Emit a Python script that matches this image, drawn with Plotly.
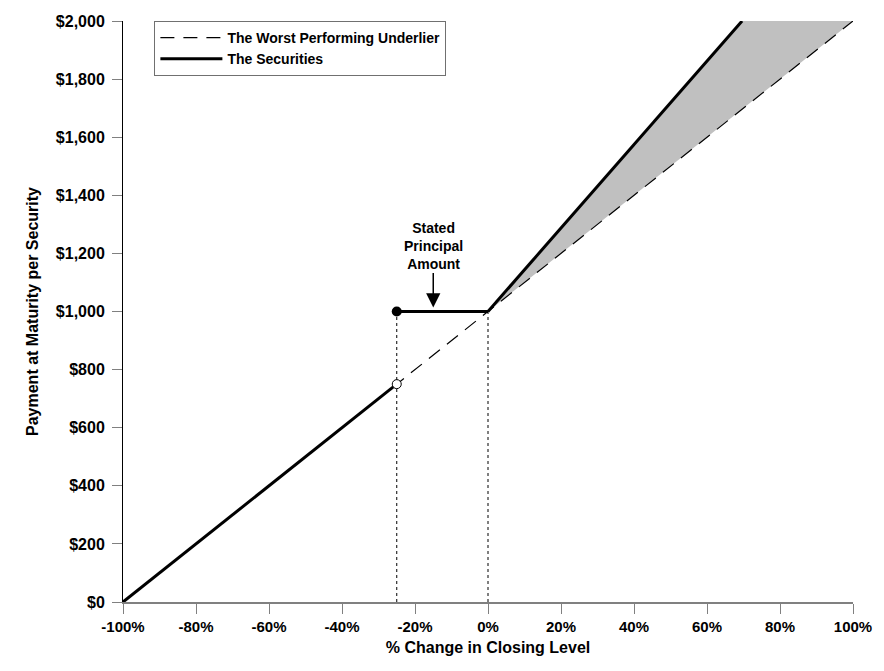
import plotly.graph_objects as go

# Payoff data (x in %, y in $)
underlier_x = [-100, 100]
underlier_y = [0, 2000]

downside_x = [-100, -25]
downside_y = [0, 750]

flat_x = [-25, 0]
flat_y = [1000, 1000]

upside_x = [0, 69.6]
upside_y = [1000, 2000]

# shaded area between the securities and the underlier above 0%
shade_x = [0, 69.6, 100, 0]
shade_y = [1000, 2000, 2000, 1000]

barrier_x = -25
principal = 1000
barrier_value = 750

x_ticks = [-100, -80, -60, -40, -20, 0, 20, 40, 60, 80, 100]
x_labels = ["-100%", "-80%", "-60%", "-40%", "-20%", "0%", "20%", "40%", "60%", "80%", "100%"]
y_ticks = [0, 200, 400, 600, 800, 1000, 1200, 1400, 1600, 1800, 2000]
y_labels = ["$0", "$200", "$400", "$600", "$800", "$1,000", "$1,200", "$1,400", "$1,600", "$1,800", "$2,000"]

FONT = "Liberation Sans"

fig = go.Figure()

# gray shaded upside
fig.add_trace(go.Scatter(
    x=shade_x, y=shade_y, fill="toself", fillcolor="#c0c0c0",
    line=dict(width=0), mode="lines", showlegend=False, hoverinfo="skip",
))

# dotted guides at the barrier and at 0%
for gx in [barrier_x, 0]:
    fig.add_trace(go.Scatter(
        x=[gx, gx], y=[0, principal], mode="lines",
        line=dict(color="black", width=1, dash="dot"),
        showlegend=False, hoverinfo="skip",
    ))

fig.add_trace(go.Scatter(
    x=underlier_x, y=underlier_y, mode="lines",
    name="The Worst Performing Underlier",
    line=dict(color="black", width=1.2, dash="14px,9px"),
))

fig.add_trace(go.Scatter(
    x=downside_x, y=downside_y, mode="lines", name="The Securities",
    line=dict(color="black", width=3),
))
for sx, sy in [(flat_x, flat_y), (upside_x, upside_y)]:
    fig.add_trace(go.Scatter(
        x=sx, y=sy, mode="lines", showlegend=False,
        line=dict(color="black", width=3),
    ))

# open and filled dots at the barrier
fig.add_trace(go.Scatter(
    x=[barrier_x], y=[barrier_value], mode="markers", showlegend=False,
    marker=dict(size=9, color="white", line=dict(color="black", width=1)),
))
fig.add_trace(go.Scatter(
    x=[barrier_x], y=[principal], mode="markers", showlegend=False,
    marker=dict(size=10, color="black"),
))

fig.add_annotation(
    x=-15, y=principal, text="Stated<br>Principal<br>Amount",
    showarrow=True, ax=0, ay=-66, arrowhead=2, arrowsize=1.9,
    arrowwidth=1.5, arrowcolor="black", standoff=4,
    font=dict(family=FONT, size=14, color="black", weight="bold"),
)

fig.update_layout(
    width=884, height=671,
    margin=dict(l=123, r=17, t=21, b=69),
    plot_bgcolor="white", paper_bgcolor="white",
    font=dict(family=FONT, size=14, color="black"),
    legend=dict(
        x=0.043, y=1, xanchor="left", yanchor="top",
        bordercolor="#707070", borderwidth=1, bgcolor="white",
        font=dict(family=FONT, size=14, weight="bold"),
        itemwidth=62, tracegroupgap=0,
    ),
)

fig.update_xaxes(
    range=[-100, 100], tickvals=x_ticks, ticktext=x_labels,
    showgrid=False, zeroline=False,
    showline=True, linecolor="#808080", linewidth=1.5,
    ticks="outside", ticklen=10, tickcolor="#808080", tickwidth=1,
    ticklabeloverflow="allow",
    tickfont=dict(family=FONT, size=15, weight="bold"),
    title=dict(text="% Change in Closing Level", standoff=8,
               font=dict(family=FONT, size=16, weight="bold")),
)
fig.update_yaxes(
    range=[0, 2000], tickvals=y_ticks, ticktext=y_labels,
    showgrid=False, zeroline=False,
    showline=True, linecolor="black", linewidth=1,
    ticks="outside", ticklen=10, tickcolor="#808080", tickwidth=1,
    ticklabelstandoff=4,
    tickfont=dict(family=FONT, size=16, weight="bold"),
    title=dict(text="Payment at Maturity per Security", standoff=13,
               font=dict(family=FONT, size=16, weight="bold")),
)

# drop the browser's default body margin so the figure fills the window
fig.write_html(
    "out.html",
    config={"displayModeBar": False},
    post_script="document.body.style.margin = '0';",
)
